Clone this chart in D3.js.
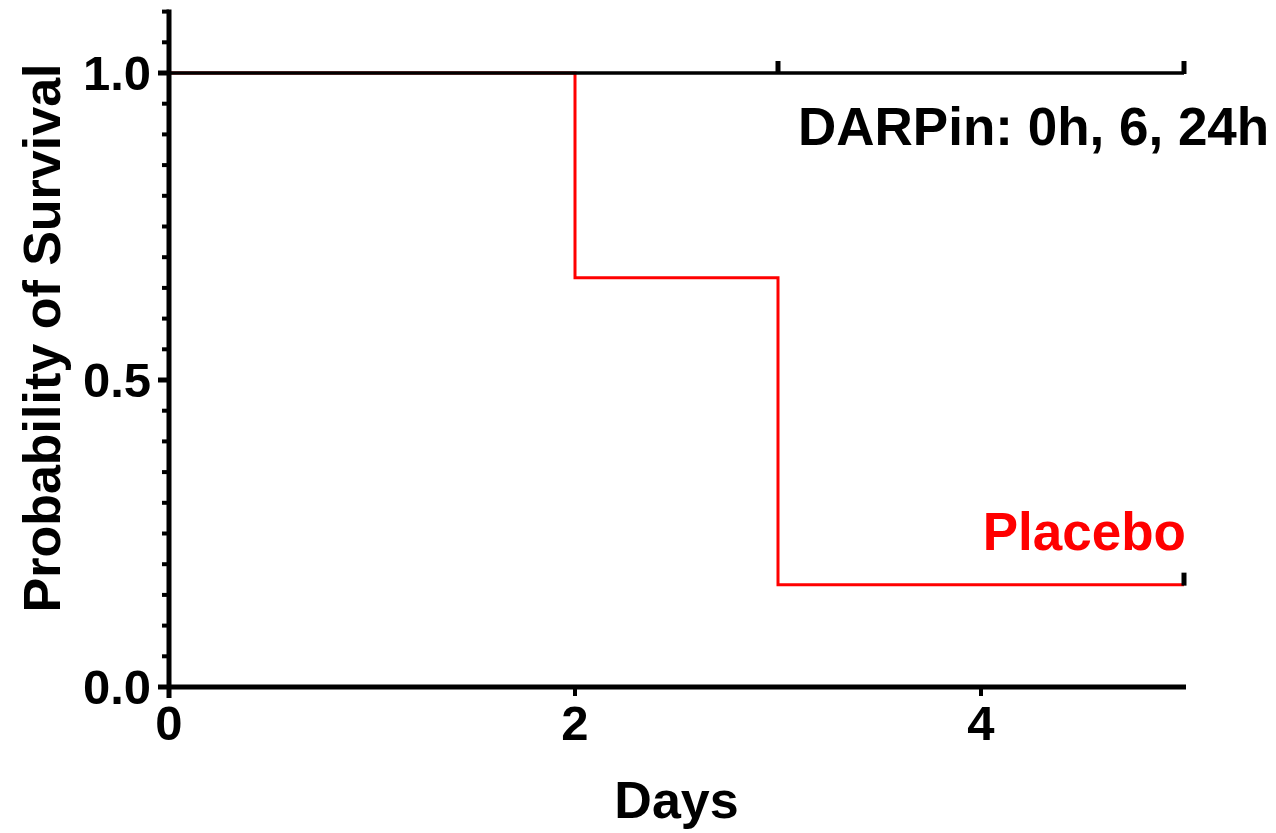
<!DOCTYPE html>
<html>
<head>
<meta charset="utf-8">
<script src="https://cdn.jsdelivr.net/npm/d3@7"></script>
<style>
  body { margin: 0; background: #fff; }
  svg { display: block; font-family: "Liberation Sans", Arial, sans-serif; font-weight: bold; }
</style>
</head>
<body>
<svg id="chart" width="1276" height="833"></svg>
<script>
// survival data (Kaplan-Meier steps)
const darpinTimes = [0, 5];
const darpinSurv = [1.0, 1.0];
const darpinCensored = [3, 5];

const placeboTimes = [0, 2, 3, 5];
const placeboSurv = [1.0, 0.6667, 0.1667, 0.1667];
const placeboCensored = [5];

const xTicks = [0, 2, 4];
const yTicks = [0, 0.5, 1.0];
const yMinorTicks = d3.range(0, 1.101, 0.05);

const width = 1276, height = 833;
const svg = d3.select("#chart");

const x = d3.scaleLinear().domain([0, 5]).range([169, 1184]);
const y = d3.scaleLinear().domain([0, 1]).range([687, 73]);

function stepData(times, surv) {
	return times.map((t, i) => ({ t, s: surv[i] }));
}

const line = d3.line()
	.x(d => x(d.t))
	.y(d => y(d.s))
	.curve(d3.curveStepAfter);

// placebo first so the black line sits on top at 1.0
svg.append("path")
	.datum(stepData(placeboTimes, placeboSurv))
	.attr("d", line)
	.attr("fill", "none")
	.attr("stroke", "#ff0000")
	.attr("stroke-width", 3);

svg.append("path")
	.datum(stepData(darpinTimes, darpinSurv))
	.attr("d", line)
	.attr("fill", "none")
	.attr("stroke", "#000")
	.attr("stroke-width", 3.4);

// censor marks
function survAt(times, surv, t) {
	let s = surv[0];
	times.forEach((tt, i) => { if (tt <= t) s = surv[i]; });
	return s;
}
const censorMarks = darpinCensored.map(t => ({ t, s: survAt(darpinTimes, darpinSurv, t) }))
	.concat(placeboCensored.map(t => ({ t, s: survAt(placeboTimes, placeboSurv, t) })));

svg.selectAll(".censor")
	.data(censorMarks)
	.join("line")
	.attr("class", "censor")
	.attr("x1", d => x(d.t)).attr("x2", d => x(d.t))
	.attr("y1", d => y(d.s) + 1).attr("y2", d => y(d.s) - 12)
	.attr("stroke", "#000")
	.attr("stroke-width", 5);

// y axis
const yAxis = svg.append("g").attr("transform", `translate(${x(0)},0)`);
yAxis.append("line")
	.attr("x1", 0).attr("x2", 0)
	.attr("y1", y(1.1) - 2).attr("y2", y(0) + 11)
	.attr("stroke", "#000").attr("stroke-width", 5);
yAxis.selectAll(".minor")
	.data(yMinorTicks)
	.join("line")
	.attr("x1", -7).attr("x2", 0)
	.attr("y1", d => y(d)).attr("y2", d => y(d))
	.attr("stroke", "#000").attr("stroke-width", 4);
yAxis.selectAll(".major")
	.data(yTicks)
	.join("line")
	.attr("x1", -11).attr("x2", 0)
	.attr("y1", d => y(d)).attr("y2", d => y(d))
	.attr("stroke", "#000").attr("stroke-width", 5);
yAxis.selectAll("text")
	.data(yTicks)
	.join("text")
	.attr("x", -18)
	.attr("y", d => y(d))
	.attr("dy", "0.35em")
	.attr("text-anchor", "end")
	.attr("font-size", 49)
	.text(d => d3.format(".1f")(d));

// x axis
const xAxis = svg.append("g").attr("transform", `translate(0,${y(0)})`);
xAxis.append("line")
	.attr("x1", x(0)).attr("x2", x(5) + 2)
	.attr("y1", 0).attr("y2", 0)
	.attr("stroke", "#000").attr("stroke-width", 5);
xAxis.selectAll(".tick")
	.data(xTicks)
	.join("line")
	.attr("class", "tick")
	.attr("x1", d => x(d)).attr("x2", d => x(d))
	.attr("y1", 0).attr("y2", 9)
	.attr("stroke", "#000").attr("stroke-width", 4);
xAxis.selectAll("text")
	.data(xTicks)
	.join("text")
	.attr("x", d => x(d))
	.attr("y", 53)
	.attr("text-anchor", "middle")
	.attr("font-size", 49)
	.text(d => d);

// axis titles
svg.append("text")
	.attr("x", x(2.5))
	.attr("y", 818)
	.attr("text-anchor", "middle")
	.attr("font-size", 52)
	.text("Days");

svg.append("text")
	.attr("transform", `translate(60,${y(0.5) - 42}) rotate(-90)`)
	.attr("text-anchor", "middle")
	.attr("font-size", 52)
	.text("Probability of Survival");

// series labels
svg.append("text")
	.attr("x", 798)
	.attr("y", 145)
	.attr("font-size", 53)
	.attr("fill", "#000")
	.text("DARPin: 0h, 6, 24h");

svg.append("text")
	.attr("x", 1186)
	.attr("y", 550)
	.attr("text-anchor", "end")
	.attr("font-size", 53)
	.attr("fill", "#ff0000")
	.text("Placebo");
</script>
</body>
</html>
